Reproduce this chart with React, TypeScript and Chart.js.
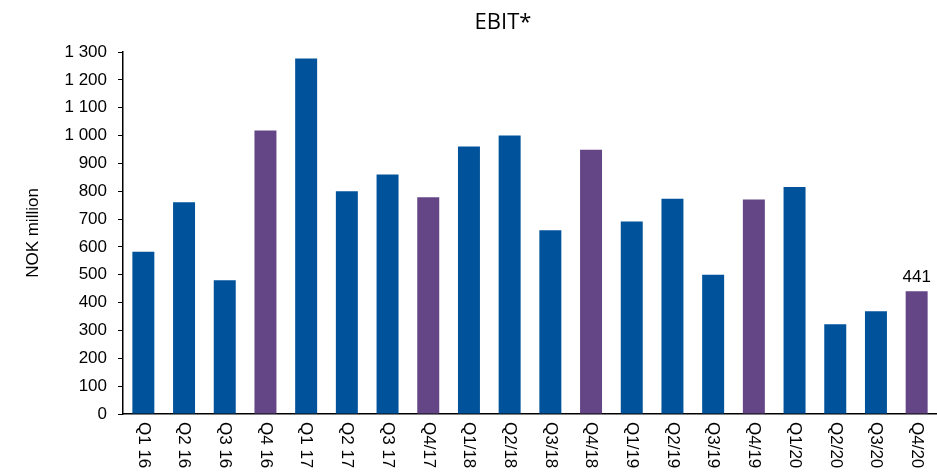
import React, { useEffect, useRef } from "react";
import { Chart, registerables } from "chart.js";

Chart.register(...registerables);

const categories = [
  "Q1 16", "Q2 16", "Q3 16", "Q4 16",
  "Q1 17", "Q2 17", "Q3 17", "Q4/17",
  "Q1/18", "Q2/18", "Q3/18", "Q4/18",
  "Q1/19", "Q2/19", "Q3/19", "Q4/19",
  "Q1/20", "Q2/20", "Q3/20", "Q4/20",
];
const ebitValues = [
  583, 760, 480, 1018,
  1277, 800, 860, 778,
  961, 1000, 660, 949,
  691, 773, 500, 770,
  815, 322, 369, 441,
];
const highlighted = [3, 7, 11, 15, 19];
const labelledBars = [19];
const yTicksMin = 0;
const yTicksMax = 1300;
const yTicksStep = 100;
const chartTitle = "EBIT*";
const yAxisTitle = "NOK million";

const BLUE = "#00529B";
const PURPLE = "#644586";
const FONT = "'Liberation Sans', Arial, sans-serif";
const TITLE_FONT = "'Open Sans', sans-serif";

function formatNum(v: number): string {
  const s = Math.round(v).toString();
  return s.replace(/\B(?=(\d{3})+(?!\d))/g, " ");
}

export default function App() {
  const ref = useRef<HTMLCanvasElement | null>(null);

  useEffect(() => {
    document.body.style.margin = "0";
    const canvas = ref.current;
    if (!canvas) return;

    const textPlugin = {
      id: "customText",
      afterDraw(chart: any) {
        const ctx = chart.ctx as CanvasRenderingContext2D;
        const area = chart.chartArea;
        const xs = chart.scales.x;
        ctx.save();
        ctx.fillStyle = "#000";
        // title
        ctx.font = `22px ${TITLE_FONT}`;
        ctx.textAlign = "center";
        ctx.textBaseline = "alphabetic";
        ctx.fillText(chartTitle, 503, 29);
        // y axis title
        ctx.save();
        ctx.translate(33, (area.top + area.bottom) / 2);
        ctx.rotate(-Math.PI / 2);
        ctx.font = `17px ${FONT}`;
        ctx.textAlign = "center";
        ctx.textBaseline = "middle";
        ctx.fillText(yAxisTitle, 0, 0);
        ctx.restore();
        // x labels rotated clockwise
        ctx.font = `17px ${FONT}`;
        categories.forEach((c, i) => {
          const x = xs.getPixelForValue(i);
          ctx.save();
          ctx.translate(x, area.bottom + 8);
          ctx.rotate(Math.PI / 2);
          ctx.textAlign = "left";
          ctx.textBaseline = "middle";
          ctx.fillText(c, 0, 0);
          ctx.restore();
        });
        // value labels
        const meta = chart.getDatasetMeta(0);
        ctx.font = `17px ${FONT}`;
        ctx.textAlign = "center";
        ctx.textBaseline = "alphabetic";
        labelledBars.forEach((i) => {
          const bar = meta.data[i];
          ctx.fillText(formatNum(ebitValues[i]), bar.x, bar.y - 9);
        });
        ctx.restore();
      },
    };

    const chart = new Chart(canvas, {
      type: "bar",
      data: {
        labels: categories,
        datasets: [
          {
            data: ebitValues,
            backgroundColor: ebitValues.map((_, i) =>
              highlighted.includes(i) ? PURPLE : BLUE
            ),
            borderWidth: 0,
            categoryPercentage: 1,
            barPercentage: 0.54,
          },
        ],
      },
      options: {
        responsive: false,
        animation: false,
        layout: { padding: { top: 52, bottom: 58, left: 0, right: 0 } },
        plugins: {
          legend: { display: false },
          title: { display: false },
          tooltip: { enabled: false },
        },
        scales: {
          x: {
            grid: { display: false, drawTicks: false },
            ticks: { display: false },
            border: { display: true, color: "#000", width: 1.5 },
          },
          y: {
            min: yTicksMin,
            max: yTicksMax,
            ticks: {
              stepSize: yTicksStep,
              color: "#000",
              font: { family: FONT, size: 17 },
              padding: 11,
              callback: (v: any) => formatNum(Number(v)),
            },
            grid: {
              display: true,
              drawOnChartArea: false,
              drawTicks: true,
              tickLength: 5,
              tickColor: "#000",
            },
            border: { display: true, color: "#000", width: 1.5 },
            afterFit: (scale: any) => {
              scale.width = 123;
            },
          },
        },
      },
      plugins: [textPlugin],
    });

    return () => chart.destroy();
  }, []);

  return (
    <div style={{ position: "absolute", left: 0, top: 0, width: 937, height: 472 }}>
      <canvas ref={ref} width={937} height={472} style={{ display: "block" }} />
    </div>
  );
}
